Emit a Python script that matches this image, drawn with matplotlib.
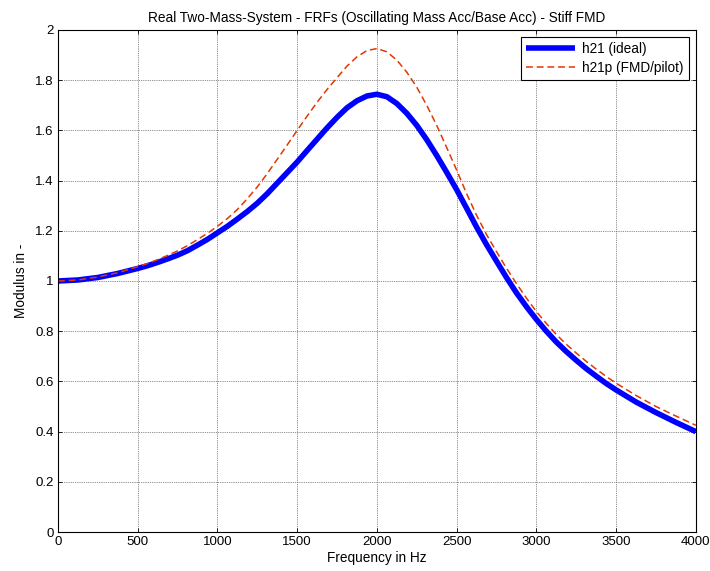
import matplotlib.pyplot as plt
import numpy as np
from matplotlib.ticker import FuncFormatter

plt.rcParams['font.family'] = ['Liberation Sans', 'DejaVu Sans']
plt.rcParams['font.size'] = 10

# frequency grid in Hz (finer where the curves bend)
freq = [0, 125, 250, 375, 500, 562.5, 625, 687.5,
        750, 812.5, 875, 937.5, 1000, 1062.5, 1125, 1187.5, 1250, 1312.5,
        1375, 1437.5, 1500,
        1562.5, 1625, 1687.5, 1750, 1812.5, 1875, 1937.5, 2000, 2062.5, 2125,
        2187.5, 2250, 2312.5, 2375, 2437.5, 2500, 2562.5, 2625, 2687.5, 2750,
        2812.5, 2875, 2937.5, 3000, 3062.5, 3125, 3187.5, 3250, 3312.5, 3375,
        3437.5, 3500, 3625, 3750, 3875, 4000]

# modulus of h21 (ideal)
h21 = [1.000, 1.004, 1.014, 1.030, 1.050, 1.061, 1.074, 1.088,
       1.103, 1.121, 1.143, 1.166, 1.192, 1.218, 1.247, 1.277, 1.310, 1.348,
       1.390, 1.432, 1.474,
       1.520, 1.565, 1.610, 1.652, 1.690, 1.718, 1.737, 1.744, 1.734, 1.707,
       1.668, 1.620, 1.563, 1.500, 1.433, 1.364, 1.290, 1.215, 1.145, 1.079,
       1.014, 0.953, 0.898, 0.847, 0.800, 0.757, 0.719, 0.684, 0.651, 0.621,
       0.592, 0.566, 0.518, 0.476, 0.437, 0.400]

# modulus of h21p (FMD/pilot)
h21p = [1.000, 1.004, 1.016, 1.033, 1.057, 1.070, 1.085, 1.102,
        1.120, 1.141, 1.165, 1.190, 1.218, 1.249, 1.285, 1.328, 1.375, 1.428,
        1.485, 1.542, 1.600,
        1.657, 1.712, 1.763, 1.810, 1.856, 1.893, 1.918, 1.926, 1.913, 1.880,
        1.832, 1.772, 1.700, 1.620, 1.532, 1.442, 1.348, 1.262, 1.185, 1.117,
        1.051, 0.990, 0.932, 0.878, 0.831, 0.787, 0.748, 0.713, 0.680, 0.649,
        0.620, 0.593, 0.544, 0.500, 0.462, 0.425]

fig = plt.figure(figsize=(7.1, 5.71), dpi=100)
ax = fig.add_axes([0.0817, 0.0683, 0.8983, 0.8792])

ax.plot(freq, h21, color=(0, 0, 1), linewidth=4, label='h21 (ideal)',
        solid_capstyle='butt', solid_joinstyle='round')
ax.plot(freq, h21p, color=(0.88, 0.22, 0.0), linewidth=1.1,
        linestyle=(0, (4.5, 2.5)), label='h21p (FMD/pilot)')

ax.set_xlim(0, 4000)
ax.set_ylim(0, 2)
ax.set_xticks(np.arange(0, 4001, 500))
ax.set_yticks(np.arange(0, 2.01, 0.2))
ax.yaxis.set_major_formatter(FuncFormatter(lambda v, p: '%g' % round(v, 1)))

ax.grid(True, color='0.4', linestyle=(0, (1, 1.2)), linewidth=0.6)
ax.tick_params(direction='in', length=3, width=0.6, top=True, right=True,
               labelsize=9.5, pad=3)
for s in ax.spines.values():
    s.set_linewidth(0.8)

ax.set_title('Real Two-Mass-System - FRFs (Oscillating Mass Acc/Base Acc) - Stiff FMD',
             fontsize=9.8, pad=6)
ax.set_xlabel('Frequency in Hz', fontsize=9.8, labelpad=2)
ax.set_ylabel('Modulus in -', fontsize=9.8, labelpad=5)

leg = ax.legend(loc='upper right', fancybox=False, framealpha=1,
                edgecolor='black', handlelength=3.6, fontsize=9.8,
                borderaxespad=0.5, labelspacing=0.35, handletextpad=0.5)
leg.get_frame().set_linewidth(0.8)

fig.savefig('out.png', dpi=100)
